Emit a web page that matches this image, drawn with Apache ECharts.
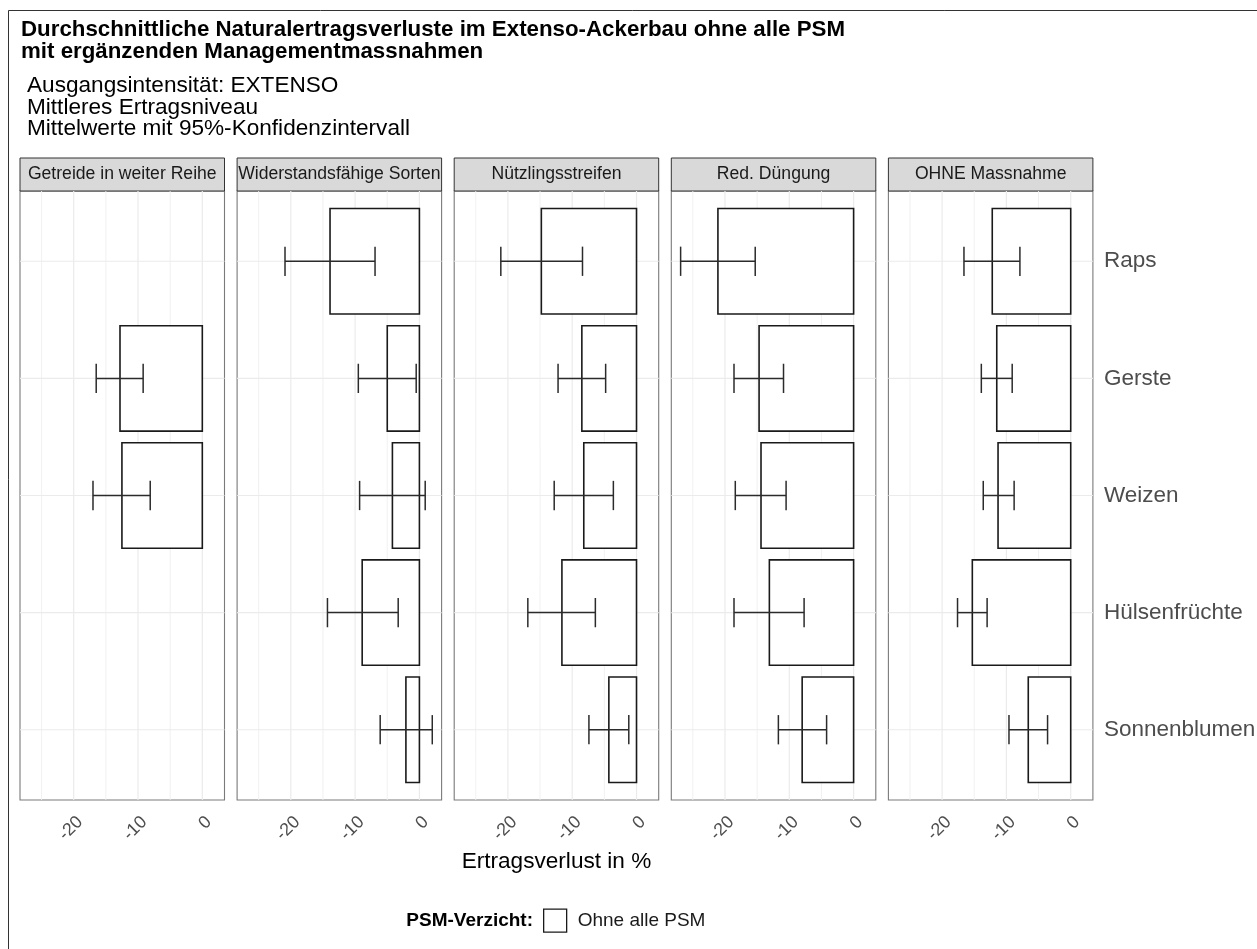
<!DOCTYPE html>
<html>
<head>
<meta charset="utf-8">
<script src="https://cdn.jsdelivr.net/npm/echarts@6/dist/echarts.min.js"></script>
<style>
  html, body { margin: 0; padding: 0; background: #fff; }
  #chart { width: 1257px; height: 949px; }
</style>
</head>
<body>
<div id="chart"></div>
<script>
// Crops (rows, top to bottom) and management measures (facets, left to right)
const crops = ['Raps', 'Gerste', 'Weizen', 'Hülsenfrüchte', 'Sonnenblumen'];
const measures = ['Getreide in weiter Reihe', 'Widerstandsfähige Sorten', 'Nützlingsstreifen', 'Red. Düngung', 'OHNE Massnahme'];

// Mean yield loss in % per measure (one row per measure, one value per crop; null = not assessed)
const meanLoss = [
  [null, -12.8, -12.5, null, null],
  [-13.9, -5.0, -4.2, -8.9, -2.1],
  [-14.8, -8.5, -8.2, -11.6, -4.3],
  [-21.1, -14.7, -14.4, -13.1, -8.0],
  [-12.2, -11.5, -11.3, -15.3, -6.6]
];
// Lower and upper bounds of the 95% confidence interval
const ciLower = [
  [null, -16.5, -17.0, null, null],
  [-20.9, -9.5, -9.3, -14.3, -6.1],
  [-21.1, -12.2, -12.8, -16.9, -7.4],
  [-26.9, -18.6, -18.4, -18.6, -11.7],
  [-16.6, -13.9, -13.6, -17.6, -9.6]
];
const ciUpper = [
  [null, -9.2, -8.1, null, null],
  [-6.9, -0.5, 0.9, -3.3, 2.0],
  [-8.4, -4.8, -3.6, -6.4, -1.2],
  [-15.3, -10.9, -10.5, -7.7, -4.2],
  [-7.9, -9.1, -8.8, -13.0, -3.6]
];

// Axis breaks
const xTicks = [-20, -10, 0];
const xMinorBreaks = [-25, -15, -5];
const rowIndex = [1, 2, 3, 4, 5];

const titleLines = ['Durchschnittliche Naturalertragsverluste im Extenso-Ackerbau ohne alle PSM', 'mit ergänzenden Managementmassnahmen'];
const subtitleLines = ['Ausgangsintensität: EXTENSO', 'Mittleres Ertragsniveau', 'Mittelwerte mit 95%-Konfidenzintervall'];
const xAxisTitle = 'Ertragsverlust in %';
const legendTitle = 'PSM-Verzicht:';
const seriesName = 'Ohne alle PSM';

// ---- layout ----
const FONT = '"Liberation Sans", Arial, Helvetica, sans-serif';
const X_MIN = -28.35, X_MAX = 3.45;
const Y_MIN = 0.4, Y_MAX = 5.6;
const PANEL_LEFT = 20, PANEL_STEP = 217.1, PANEL_W = 204.5;
const PANEL_TOP = 191, PANEL_H = 609;
const STRIP_TOP = 158, STRIP_H = 33;
const BAR_HALF = 0.45, CAP_HALF = 0.125;

const grids = [], xAxes = [], yAxes = [], series = [], graphics = [];

function vLine(stroke, width) {
  return function (params, api) {
    const x = api.coord([api.value(0), 1])[0];
    const cs = params.coordSys;
    return { type: 'line', shape: { x1: x, y1: cs.y, x2: x, y2: cs.y + cs.height },
             style: { stroke: stroke, lineWidth: width } };
  };
}
function hLine(stroke, width) {
  return function (params, api) {
    const y = api.coord([0, api.value(1)])[1];
    const cs = params.coordSys;
    return { type: 'line', shape: { x1: cs.x, y1: y, x2: cs.x + cs.width, y2: y },
             style: { stroke: stroke, lineWidth: width } };
  };
}

measures.forEach(function (m, k) {
  const left = PANEL_LEFT + k * PANEL_STEP;
  grids.push({ left: left, top: PANEL_TOP, width: PANEL_W, height: PANEL_H, show: true,
               backgroundColor: '#ffffff', borderColor: '#7a7a7a', borderWidth: 1.1,
               containLabel: false, outerBoundsMode: 'none' });
  xAxes.push({
    gridIndex: k, type: 'value', min: X_MIN, max: X_MAX,
    axisLine: { show: false }, axisTick: { show: false }, splitLine: { show: false },
    axisLabel: { customValues: xTicks, rotate: 45, align: 'right', verticalAlign: 'top', margin: 13,
                 fontSize: 17.8, color: '#4d4d4d', fontFamily: FONT, formatter: function (v) { return String(v); } }
  });
  yAxes.push({
    gridIndex: k, type: 'value', min: Y_MIN, max: Y_MAX, inverse: true, position: 'right',
    axisLine: { show: false }, axisTick: { show: false }, splitLine: { show: false },
    axisLabel: k === measures.length - 1
      ? { customValues: rowIndex, margin: 11, fontSize: 22.5, color: '#4d4d4d', fontFamily: FONT,
          formatter: function (v) { return crops[Math.round(v) - 1]; } }
      : { show: false }
  });

  // panel grid lines
  series.push({ type: 'custom', xAxisIndex: k, yAxisIndex: k, z: 1, silent: true,
                data: xMinorBreaks.map(function (v) { return [v, 1]; }), renderItem: vLine('#efefef', 0.9) });
  series.push({ type: 'custom', xAxisIndex: k, yAxisIndex: k, z: 1, silent: true,
                data: xTicks.map(function (v) { return [v, 1]; }), renderItem: vLine('#ebebeb', 1.2) });
  series.push({ type: 'custom', xAxisIndex: k, yAxisIndex: k, z: 1, silent: true,
                data: rowIndex.map(function (r) { return [0, r]; }), renderItem: hLine('#ebebeb', 1.2) });

  // bars
  const barData = [], errData = [];
  crops.forEach(function (c, i) {
    if (meanLoss[k][i] !== null) {
      barData.push([meanLoss[k][i], i + 1]);
      errData.push([ciLower[k][i], ciUpper[k][i], i + 1]);
    }
  });
  series.push({
    name: seriesName, type: 'custom', xAxisIndex: k, yAxisIndex: k, z: 3,
    encode: { x: 0, y: 1 }, data: barData,
    itemStyle: { color: '#ffffff', borderColor: '#1a1a1a', borderWidth: 1.6 },
    renderItem: function (params, api) {
      const v = api.value(0), r = api.value(1);
      const p0 = api.coord([0, r - BAR_HALF]);
      const p1 = api.coord([v, r + BAR_HALF]);
      return { type: 'rect',
               shape: { x: Math.min(p0[0], p1[0]), y: Math.min(p0[1], p1[1]),
                        width: Math.abs(p1[0] - p0[0]), height: Math.abs(p1[1] - p0[1]) },
               style: { fill: '#ffffff', stroke: '#1a1a1a', lineWidth: 1.6 } };
    }
  });
  // confidence intervals
  series.push({
    type: 'custom', xAxisIndex: k, yAxisIndex: k, z: 4, silent: true,
    encode: { x: [0, 1], y: 2 }, data: errData,
    renderItem: function (params, api) {
      const r = api.value(2);
      const a = api.coord([api.value(0), r]);
      const b = api.coord([api.value(1), r]);
      const t = api.coord([0, r - CAP_HALF])[1];
      const u = api.coord([0, r + CAP_HALF])[1];
      const st = { stroke: '#2b2b2b', lineWidth: 1.5 };
      return { type: 'group', children: [
        { type: 'line', shape: { x1: a[0], y1: a[1], x2: b[0], y2: b[1] }, style: st },
        { type: 'line', shape: { x1: a[0], y1: t, x2: a[0], y2: u }, style: st },
        { type: 'line', shape: { x1: b[0], y1: t, x2: b[0], y2: u }, style: st }
      ] };
    }
  });

  // facet strip
  graphics.push({ type: 'rect', shape: { x: left, y: STRIP_TOP, width: PANEL_W, height: STRIP_H },
                  style: { fill: '#d9d9d9', stroke: '#333333', lineWidth: 1 }, silent: true });
  graphics.push({ type: 'text', x: left + PANEL_W / 2, y: STRIP_TOP + STRIP_H / 2, silent: true,
                  style: { text: m, fontSize: 17.6, fontFamily: FONT, fill: '#1a1a1a',
                           align: 'center', verticalAlign: 'middle', textAlign: 'center', textVerticalAlign: 'middle' } });
});

// outer frame
graphics.push({ type: 'line', shape: { x1: 8.5, y1: 10.5, x2: 1257, y2: 10.5 }, style: { stroke: '#333333', lineWidth: 1 }, silent: true });
graphics.push({ type: 'line', shape: { x1: 8.5, y1: 10.5, x2: 8.5, y2: 949 }, style: { stroke: '#333333', lineWidth: 1 }, silent: true });

// title and subtitle
titleLines.forEach(function (t, i) {
  graphics.push({ type: 'text', x: 21, y: 29.6 + i * 22.7, silent: true,
                  style: { text: t, fontSize: 22.3, fontWeight: 'bold', fontFamily: FONT, fill: '#000000',
                           align: 'left', verticalAlign: 'middle', textAlign: 'left', textVerticalAlign: 'middle' } });
});
subtitleLines.forEach(function (t, i) {
  graphics.push({ type: 'text', x: 27, y: 85.6 + i * 21.7, silent: true,
                  style: { text: t, fontSize: 22.6, fontFamily: FONT, fill: '#000000',
                           align: 'left', verticalAlign: 'middle', textAlign: 'left', textVerticalAlign: 'middle' } });
});

// x axis title
graphics.push({ type: 'text', x: PANEL_LEFT + (4 * PANEL_STEP + PANEL_W) / 2, y: 862, silent: true,
                style: { text: xAxisTitle, fontSize: 22.6, fontFamily: FONT, fill: '#000000',
                         align: 'center', verticalAlign: 'middle', textAlign: 'center', textVerticalAlign: 'middle' } });

// legend title
graphics.push({ type: 'text', x: 533, y: 920.5, silent: true,
                style: { text: legendTitle, fontSize: 19, fontWeight: 'bold', fontFamily: FONT, fill: '#000000',
                         align: 'right', verticalAlign: 'middle', textAlign: 'right', textVerticalAlign: 'middle' } });

const chart = echarts.init(document.getElementById('chart'), null, { renderer: 'canvas' });
chart.setOption({
  animation: false,
  backgroundColor: '#ffffff',
  grid: grids,
  xAxis: xAxes,
  yAxis: yAxes,
  series: series,
  legend: {
    left: 543, top: 908.5, orient: 'horizontal', selectedMode: false,
    itemWidth: 23, itemHeight: 23, padding: 0,
    textStyle: { fontSize: 19, fontFamily: FONT, color: '#1a1a1a', padding: [0, 0, 0, 6] },
    data: [{ name: seriesName, icon: 'rect',
             itemStyle: { color: '#ffffff', borderColor: '#1a1a1a', borderWidth: 1.3 } }]
  },
  graphic: graphics
});
</script>
</body>
</html>
